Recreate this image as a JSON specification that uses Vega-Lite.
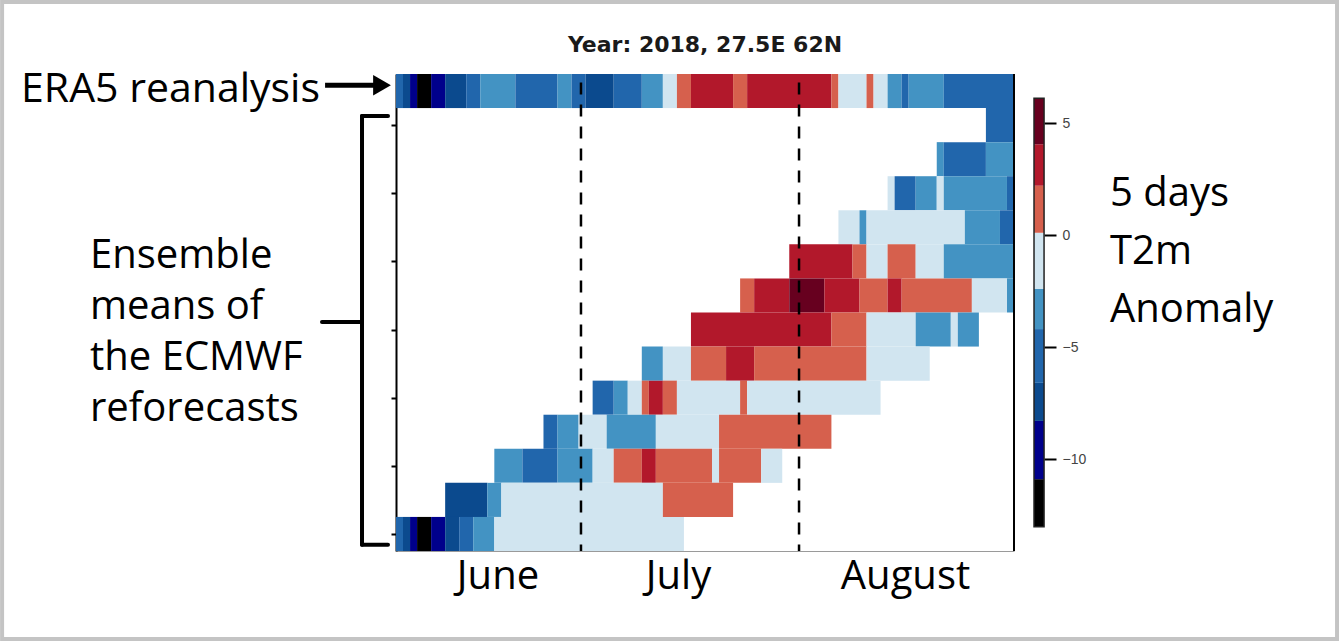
{
  "$schema": "https://vega.github.io/schema/vega-lite/v6.json",
  "width": 618,
  "height": 477,
  "autosize": {"type": "none"},
  "padding": {"left": 396, "top": 74, "right": 325, "bottom": 90},
  "background": "white",
  "config": {"view": {"stroke": null}, "axis": {"grid": false}},
  "datasets": {
    "cells": [
      {"row": 0, "row_end": 1, "d0": 0, "d1": 1, "t2m": -5.6},
      {"row": 0, "row_end": 1, "d0": 1, "d1": 2, "t2m": -7.3},
      {"row": 0, "row_end": 1, "d0": 2, "d1": 3, "t2m": -9.5},
      {"row": 0, "row_end": 1, "d0": 3, "d1": 5, "t2m": -11.6},
      {"row": 0, "row_end": 1, "d0": 5, "d1": 7, "t2m": -9.8},
      {"row": 0, "row_end": 1, "d0": 7, "d1": 10, "t2m": -7.6},
      {"row": 0, "row_end": 1, "d0": 10, "d1": 12, "t2m": -5.4},
      {"row": 0, "row_end": 1, "d0": 12, "d1": 17, "t2m": -3.6},
      {"row": 0, "row_end": 1, "d0": 17, "d1": 23, "t2m": -5.1},
      {"row": 0, "row_end": 1, "d0": 23, "d1": 25, "t2m": -3.9},
      {"row": 0, "row_end": 1, "d0": 25, "d1": 27, "t2m": -4.8},
      {"row": 0, "row_end": 1, "d0": 27, "d1": 31, "t2m": -7.0},
      {"row": 0, "row_end": 1, "d0": 31, "d1": 35, "t2m": -5.5},
      {"row": 0, "row_end": 1, "d0": 35, "d1": 38, "t2m": -3.2},
      {"row": 0, "row_end": 1, "d0": 38, "d1": 40, "t2m": -1.3},
      {"row": 0, "row_end": 1, "d0": 40, "d1": 42, "t2m": 1.4},
      {"row": 0, "row_end": 1, "d0": 42, "d1": 48, "t2m": 3.3},
      {"row": 0, "row_end": 1, "d0": 48, "d1": 50, "t2m": 1.7},
      {"row": 0, "row_end": 1, "d0": 50, "d1": 62, "t2m": 3.5},
      {"row": 0, "row_end": 1, "d0": 62, "d1": 63, "t2m": 1.2},
      {"row": 0, "row_end": 1, "d0": 63, "d1": 67, "t2m": -0.9},
      {"row": 0, "row_end": 1, "d0": 67, "d1": 68, "t2m": 0.6},
      {"row": 0, "row_end": 1, "d0": 68, "d1": 70, "t2m": -1.0},
      {"row": 0, "row_end": 1, "d0": 70, "d1": 72, "t2m": -3.4},
      {"row": 0, "row_end": 1, "d0": 72, "d1": 73, "t2m": -4.6},
      {"row": 0, "row_end": 1, "d0": 73, "d1": 78, "t2m": -3.5},
      {"row": 0, "row_end": 1, "d0": 78, "d1": 88, "t2m": -5.0},

      {"row": 1, "row_end": 2, "d0": 84, "d1": 88, "t2m": -5.3},

      {"row": 2, "row_end": 3, "d0": 77, "d1": 78, "t2m": -3.2},
      {"row": 2, "row_end": 3, "d0": 78, "d1": 84, "t2m": -5.4},
      {"row": 2, "row_end": 3, "d0": 84, "d1": 88, "t2m": -3.5},

      {"row": 3, "row_end": 4, "d0": 70, "d1": 71, "t2m": -1.1},
      {"row": 3, "row_end": 4, "d0": 71, "d1": 74, "t2m": -5.5},
      {"row": 3, "row_end": 4, "d0": 74, "d1": 77, "t2m": -3.6},
      {"row": 3, "row_end": 4, "d0": 77, "d1": 78, "t2m": -1.4},
      {"row": 3, "row_end": 4, "d0": 78, "d1": 87, "t2m": -3.3},
      {"row": 3, "row_end": 4, "d0": 87, "d1": 88, "t2m": -5.0},

      {"row": 4, "row_end": 5, "d0": 63, "d1": 66, "t2m": -1.0},
      {"row": 4, "row_end": 5, "d0": 66, "d1": 67, "t2m": -3.0},
      {"row": 4, "row_end": 5, "d0": 67, "d1": 81, "t2m": -1.3},
      {"row": 4, "row_end": 5, "d0": 81, "d1": 86, "t2m": -3.4},
      {"row": 4, "row_end": 5, "d0": 86, "d1": 88, "t2m": -5.2},

      {"row": 5, "row_end": 6, "d0": 56, "d1": 65, "t2m": 3.4},
      {"row": 5, "row_end": 6, "d0": 65, "d1": 67, "t2m": 1.5},
      {"row": 5, "row_end": 6, "d0": 67, "d1": 70, "t2m": -1.2},
      {"row": 5, "row_end": 6, "d0": 70, "d1": 74, "t2m": 1.1},
      {"row": 5, "row_end": 6, "d0": 74, "d1": 78, "t2m": -1.4},
      {"row": 5, "row_end": 6, "d0": 78, "d1": 88, "t2m": -3.2},

      {"row": 6, "row_end": 7, "d0": 49, "d1": 51, "t2m": 1.3},
      {"row": 6, "row_end": 7, "d0": 51, "d1": 56, "t2m": 3.3},
      {"row": 6, "row_end": 7, "d0": 56, "d1": 61, "t2m": 4.9},
      {"row": 6, "row_end": 7, "d0": 61, "d1": 66, "t2m": 3.0},
      {"row": 6, "row_end": 7, "d0": 66, "d1": 70, "t2m": 1.2},
      {"row": 6, "row_end": 7, "d0": 70, "d1": 72, "t2m": 2.6},
      {"row": 6, "row_end": 7, "d0": 72, "d1": 82, "t2m": 1.0},
      {"row": 6, "row_end": 7, "d0": 82, "d1": 87, "t2m": -1.1},
      {"row": 6, "row_end": 7, "d0": 87, "d1": 88, "t2m": -3.5},

      {"row": 7, "row_end": 8, "d0": 42, "d1": 62, "t2m": 3.2},
      {"row": 7, "row_end": 8, "d0": 62, "d1": 67, "t2m": 1.4},
      {"row": 7, "row_end": 8, "d0": 67, "d1": 74, "t2m": -1.0},
      {"row": 7, "row_end": 8, "d0": 74, "d1": 79, "t2m": -3.3},
      {"row": 7, "row_end": 8, "d0": 79, "d1": 80, "t2m": -1.5},
      {"row": 7, "row_end": 8, "d0": 80, "d1": 83, "t2m": -3.6},

      {"row": 8, "row_end": 9, "d0": 35, "d1": 38, "t2m": -3.4},
      {"row": 8, "row_end": 9, "d0": 38, "d1": 42, "t2m": -1.2},
      {"row": 8, "row_end": 9, "d0": 42, "d1": 47, "t2m": 1.5},
      {"row": 8, "row_end": 9, "d0": 47, "d1": 51, "t2m": 3.1},
      {"row": 8, "row_end": 9, "d0": 51, "d1": 67, "t2m": 1.0},
      {"row": 8, "row_end": 9, "d0": 67, "d1": 76, "t2m": -0.7},

      {"row": 9, "row_end": 10, "d0": 28, "d1": 31, "t2m": -5.3},
      {"row": 9, "row_end": 10, "d0": 31, "d1": 33, "t2m": -3.2},
      {"row": 9, "row_end": 10, "d0": 33, "d1": 35, "t2m": -1.6},
      {"row": 9, "row_end": 10, "d0": 35, "d1": 36, "t2m": 0.8},
      {"row": 9, "row_end": 10, "d0": 36, "d1": 38, "t2m": 2.7},
      {"row": 9, "row_end": 10, "d0": 38, "d1": 40, "t2m": 1.1},
      {"row": 9, "row_end": 10, "d0": 40, "d1": 49, "t2m": -1.3},
      {"row": 9, "row_end": 10, "d0": 49, "d1": 50, "t2m": 0.4},
      {"row": 9, "row_end": 10, "d0": 50, "d1": 69, "t2m": -0.9},

      {"row": 10, "row_end": 11, "d0": 21, "d1": 23, "t2m": -5.0},
      {"row": 10, "row_end": 11, "d0": 23, "d1": 26, "t2m": -3.6},
      {"row": 10, "row_end": 11, "d0": 26, "d1": 30, "t2m": -1.4},
      {"row": 10, "row_end": 11, "d0": 30, "d1": 37, "t2m": -3.0},
      {"row": 10, "row_end": 11, "d0": 37, "d1": 46, "t2m": -1.1},
      {"row": 10, "row_end": 11, "d0": 46, "d1": 62, "t2m": 1.2},

      {"row": 11, "row_end": 12, "d0": 14, "d1": 18, "t2m": -3.7},
      {"row": 11, "row_end": 12, "d0": 18, "d1": 23, "t2m": -5.6},
      {"row": 11, "row_end": 12, "d0": 23, "d1": 28, "t2m": -3.1},
      {"row": 11, "row_end": 12, "d0": 28, "d1": 31, "t2m": -1.5},
      {"row": 11, "row_end": 12, "d0": 31, "d1": 35, "t2m": 0.9},
      {"row": 11, "row_end": 12, "d0": 35, "d1": 37, "t2m": 2.8},
      {"row": 11, "row_end": 12, "d0": 37, "d1": 45, "t2m": 1.3},
      {"row": 11, "row_end": 12, "d0": 45, "d1": 46, "t2m": -0.3},
      {"row": 11, "row_end": 12, "d0": 46, "d1": 52, "t2m": 1.0},
      {"row": 11, "row_end": 12, "d0": 52, "d1": 55, "t2m": -0.8},

      {"row": 12, "row_end": 13, "d0": 7, "d1": 13, "t2m": -7.6},
      {"row": 12, "row_end": 13, "d0": 13, "d1": 15, "t2m": -3.4},
      {"row": 12, "row_end": 13, "d0": 15, "d1": 38, "t2m": -1.0},
      {"row": 12, "row_end": 13, "d0": 38, "d1": 48, "t2m": 1.0},

      {"row": 13, "row_end": 14, "d0": 0, "d1": 1, "t2m": -5.5},
      {"row": 13, "row_end": 14, "d0": 1, "d1": 2, "t2m": -7.2},
      {"row": 13, "row_end": 14, "d0": 2, "d1": 3, "t2m": -9.4},
      {"row": 13, "row_end": 14, "d0": 3, "d1": 5, "t2m": -11.5},
      {"row": 13, "row_end": 14, "d0": 5, "d1": 7, "t2m": -9.7},
      {"row": 13, "row_end": 14, "d0": 7, "d1": 9, "t2m": -7.5},
      {"row": 13, "row_end": 14, "d0": 9, "d1": 11, "t2m": -5.2},
      {"row": 13, "row_end": 14, "d0": 11, "d1": 14, "t2m": -3.5},
      {"row": 13, "row_end": 14, "d0": 14, "d1": 41, "t2m": -1.2}
    ],
    "markers": [
      {"day": 26.34},
      {"day": 57.39}
    ],
    "bins": [
      {"lo": -13.02, "hi": -10.9, "t2m": -11.9},
      {"lo": -10.9, "hi": -8.3, "t2m": -9.6},
      {"lo": -8.3, "hi": -6.6, "t2m": -7.45},
      {"lo": -6.6, "hi": -4.2, "t2m": -5.4},
      {"lo": -4.2, "hi": -2.4, "t2m": -3.3},
      {"lo": -2.4, "hi": 0.1, "t2m": -1.15},
      {"lo": 0.1, "hi": 2.2, "t2m": 1.15},
      {"lo": 2.2, "hi": 4.05, "t2m": 3.1},
      {"lo": 4.05, "hi": 6.1, "t2m": 5.1}
    ]
  },
  "layer": [
    {
      "data": {"values": [{}]},
      "mark": {"type": "rect", "fill": "transparent", "stroke": "#c4c4c4", "strokeWidth": 4},
      "encoding": {
        "x": {"datum": -56.09, "type": "quantitative"},
        "x2": {"datum": 134.0},
        "y": {"datum": -2.11, "type": "quantitative", "scale": {"domain": [0, 14], "reverse": true, "nice": false, "zero": false}, "axis": null},
        "y2": {"datum": 16.58}
      }
    },
    {
      "data": {"name": "cells"},
      "mark": {"type": "rect"},
      "encoding": {
        "x": {
          "field": "d0", "type": "quantitative",
          "scale": {"domain": [0, 88], "nice": false, "zero": false},
          "axis": {
            "orient": "bottom",
            "values": [14.45, 40.16, 72.48],
            "labelExpr": "datum.value < 30 ? 'June' : datum.value < 60 ? 'July' : 'August'",
            "ticks": false, "domain": true, "domainColor": "#9a9a9a", "domainWidth": 1,
            "labelFont": "Open Sans", "labelFontSize": 40, "labelColor": "#000000",
            "labelPadding": 5, "labelOverlap": false, "labelFlush": false,
            "title": null, "grid": false
          }
        },
        "x2": {"field": "d1"},
        "y": {
          "field": "row", "type": "quantitative",
          "scale": {"domain": [0, 14], "reverse": true, "nice": false, "zero": false},
          "axis": {
            "orient": "left",
            "values": [1.5, 3.5, 5.5, 7.5, 9.5, 11.5, 13.5],
            "labels": false, "tickSize": 5, "tickWidth": 2, "tickColor": "#000000",
            "domainColor": "#000000", "domainWidth": 2, "title": null, "grid": false
          }
        },
        "y2": {"field": "row_end"},
        "color": {
          "field": "t2m", "type": "quantitative", "title": "5 days T2m Anomaly",
          "scale": {
            "type": "threshold",
            "domain": [-10.9, -8.3, -6.6, -4.2, -2.4, 0.1, 2.2, 4.05],
            "range": ["#000000", "#00008B", "#0B4A8E", "#2166AC", "#4393C3", "#D1E5F0", "#D6604D", "#B2182B", "#67001F"]
          },
          "legend": null
        }
      }
    },
    {
      "data": {"values": [{}]},
      "mark": {"type": "rule", "color": "#000000", "strokeWidth": 2},
      "encoding": {
        "x": {"datum": 88, "type": "quantitative"},
        "y": {"datum": 0, "type": "quantitative", "scale": {"domain": [0, 14], "reverse": true, "nice": false, "zero": false}, "axis": null},
        "y2": {"datum": 14}
      }
    },
    {
      "data": {"name": "markers"},
      "mark": {"type": "rule", "color": "#000000", "strokeWidth": 2.5, "strokeDash": [12, 10]},
      "encoding": {
        "x": {"field": "day", "type": "quantitative"},
        "y": {"datum": 0.25, "type": "quantitative", "scale": {"domain": [0, 14], "reverse": true, "nice": false, "zero": false}, "axis": null},
        "y2": {"datum": 14}
      }
    },
    {
      "data": {"values": [{}]},
      "mark": {"type": "text", "font": "DejaVu Sans", "fontSize": 22, "fontWeight": "bold", "align": "center", "baseline": "alphabetic", "color": "#1a1a1a"},
      "encoding": {
        "x": {"datum": 44, "type": "quantitative"},
        "y": {"datum": -0.646, "type": "quantitative", "scale": {"domain": [0, 14], "reverse": true, "nice": false, "zero": false}, "axis": null},
        "text": {"value": "Year: 2018, 27.5E 62N"}
      }
    },
    {
      "data": {"values": [{}]},
      "mark": {"type": "text", "font": "Open Sans", "fontSize": 41, "align": "right", "baseline": "middle", "color": "#000000"},
      "encoding": {
        "x": {"datum": -10.82, "type": "quantitative"},
        "y": {"datum": 0.47, "type": "quantitative", "scale": {"domain": [0, 14], "reverse": true, "nice": false, "zero": false}, "axis": null},
        "text": {"value": "ERA5 reanalysis"}
      }
    },
    {
      "data": {"values": [{}]},
      "mark": {"type": "rule", "color": "#000000", "strokeWidth": 5},
      "encoding": {
        "x": {"datum": -10.1, "type": "quantitative"},
        "x2": {"datum": -2.85},
        "y": {"datum": 0.33, "type": "quantitative", "scale": {"domain": [0, 14], "reverse": true, "nice": false, "zero": false}, "axis": null}
      }
    },
    {
      "data": {"values": [{}]},
      "mark": {"type": "point", "shape": "triangle-right", "filled": true, "size": 420, "color": "#000000", "opacity": 1},
      "encoding": {
        "x": {"datum": -1.99, "type": "quantitative"},
        "y": {"datum": 0.33, "type": "quantitative", "scale": {"domain": [0, 14], "reverse": true, "nice": false, "zero": false}, "axis": null}
      }
    },
    {
      "data": {"values": [{}]},
      "mark": {"type": "rule", "color": "#000000", "strokeWidth": 4, "strokeCap": "round"},
      "encoding": {
        "x": {"datum": -4.84, "type": "quantitative"},
        "y": {"datum": 1.23, "type": "quantitative", "scale": {"domain": [0, 14], "reverse": true, "nice": false, "zero": false}, "axis": null},
        "y2": {"datum": 13.82}
      }
    },
    {
      "data": {"values": [{}]},
      "mark": {"type": "rule", "color": "#000000", "strokeWidth": 4, "strokeCap": "round"},
      "encoding": {
        "x": {"datum": -4.84, "type": "quantitative"},
        "x2": {"datum": -1.14},
        "y": {"datum": 1.23, "type": "quantitative", "scale": {"domain": [0, 14], "reverse": true, "nice": false, "zero": false}, "axis": null}
      }
    },
    {
      "data": {"values": [{}]},
      "mark": {"type": "rule", "color": "#000000", "strokeWidth": 4, "strokeCap": "round"},
      "encoding": {
        "x": {"datum": -4.84, "type": "quantitative"},
        "x2": {"datum": -1.14},
        "y": {"datum": 13.82, "type": "quantitative", "scale": {"domain": [0, 14], "reverse": true, "nice": false, "zero": false}, "axis": null}
      }
    },
    {
      "data": {"values": [{}]},
      "mark": {"type": "rule", "color": "#000000", "strokeWidth": 4, "strokeCap": "round"},
      "encoding": {
        "x": {"datum": -10.54, "type": "quantitative"},
        "x2": {"datum": -4.84},
        "y": {"datum": 7.28, "type": "quantitative", "scale": {"domain": [0, 14], "reverse": true, "nice": false, "zero": false}, "axis": null}
      }
    },
    {
      "data": {"values": [{}]},
      "mark": {"type": "text", "font": "Open Sans", "fontSize": 40, "align": "left", "baseline": "middle", "lineHeight": 51, "color": "#000000"},
      "encoding": {
        "x": {"datum": -43.57, "type": "quantitative"},
        "y": {"datum": 5.34, "type": "quantitative", "scale": {"domain": [0, 14], "reverse": true, "nice": false, "zero": false}, "axis": null},
        "text": {"value": ["Ensemble", "means of", "the ECMWF", "reforecasts"]}
      }
    },
    {
      "data": {"values": [{}]},
      "mark": {"type": "text", "font": "Open Sans", "fontSize": 40, "align": "left", "baseline": "middle", "lineHeight": 58, "color": "#000000"},
      "encoding": {
        "x": {"datum": 101.67, "type": "quantitative"},
        "y": {"datum": 3.52, "type": "quantitative", "scale": {"domain": [0, 14], "reverse": true, "nice": false, "zero": false}, "axis": null},
        "text": {"value": ["5 days", "T2m", "Anomaly"]}
      }
    },
    {
      "data": {"name": "bins"},
      "mark": {"type": "rect"},
      "encoding": {
        "x": {"datum": 90.85, "type": "quantitative"},
        "x2": {"datum": 92.28},
        "y": {
          "field": "lo", "type": "quantitative",
          "scale": {"domain": [-14.107, 7.1875], "nice": false, "zero": false},
          "axis": {
            "orient": "right", "offset": 30, "values": [-10, -5, 0, 5],
            "tickSize": 12, "tickWidth": 2, "tickColor": "#000000", "domain": false,
            "labelFont": "Liberation Sans", "labelFontSize": 14, "labelColor": "#444444",
            "labelPadding": 6, "title": null, "grid": false
          }
        },
        "y2": {"field": "hi"},
        "color": {
          "field": "t2m", "type": "quantitative",
          "scale": {
            "type": "threshold",
            "domain": [-10.9, -8.3, -6.6, -4.2, -2.4, 0.1, 2.2, 4.05],
            "range": ["#000000", "#00008B", "#0B4A8E", "#2166AC", "#4393C3", "#D1E5F0", "#D6604D", "#B2182B", "#67001F"]
          },
          "legend": null
        }
      }
    },
    {
      "data": {"values": [{}]},
      "mark": {"type": "rect", "fill": "transparent", "stroke": "#222222", "strokeWidth": 1.5},
      "encoding": {
        "x": {"datum": 90.85, "type": "quantitative"},
        "x2": {"datum": 92.28},
        "y": {"datum": -13.02, "type": "quantitative", "scale": {"domain": [-14.107, 7.1875], "nice": false, "zero": false}, "axis": null},
        "y2": {"datum": 6.1}
      }
    }
  ],
  "resolve": {"scale": {"y": "independent"}}
}
